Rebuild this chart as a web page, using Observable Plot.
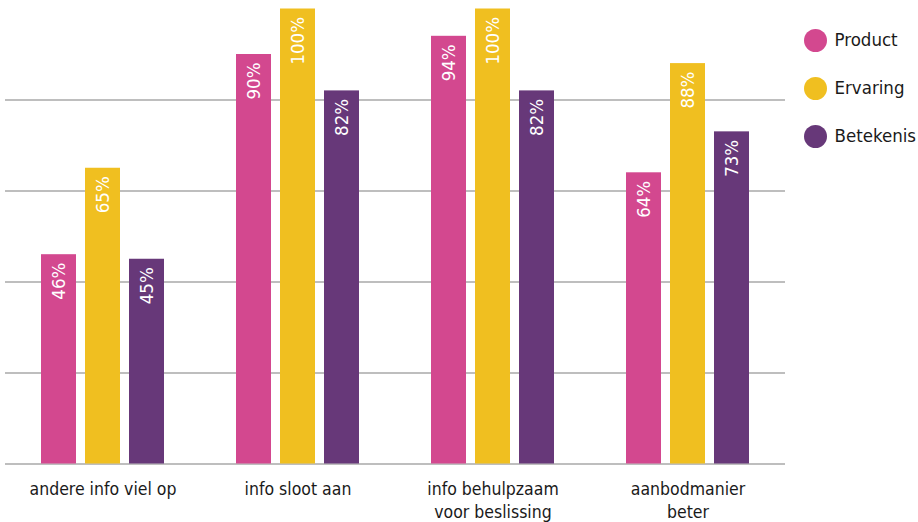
<!DOCTYPE html>
<html>
<head>
<meta charset="utf-8">
<script src="https://cdn.jsdelivr.net/npm/d3@7"></script>
<script src="https://cdn.jsdelivr.net/npm/@observablehq/plot@0.6"></script>
<style>
  html, body { margin: 0; padding: 0; background: #fff; }
  #wrap { position: relative; width: 918px; height: 522px; }
  #legend { position: absolute; left: 790px; top: 0; }
  svg { font-family: "DejaVu Sans Condensed", "DejaVu Sans", sans-serif; }
</style>
</head>
<body>
<div id="wrap"><div id="chart"></div><div id="legend"></div></div>
<script>
const categories = ["andere info viel op", "info sloot aan", "info behulpzaam\nvoor beslissing", "aanbodmanier\nbeter"];
const series = ["Product", "Ervaring", "Betekenis"];
const colors = ["#d3488f", "#f0bf20", "#673879"];
const product = [46, 90, 94, 64];
const ervaring = [65, 100, 100, 88];
const betekenis = [45, 82, 82, 73];
const gridTicks = [0, 20, 40, 60, 80];

const values = [product, ervaring, betekenis];
const data = [];
categories.forEach((c, i) => series.forEach((s, j) => data.push({cat: c, series: s, value: values[j][i]})));

const chart = Plot.plot({
  width: 918,
  height: 522,
  marginLeft: 4,
  marginRight: 133,
  marginTop: 8.5,
  marginBottom: 58.5,
  fx: {domain: categories, padding: 0, label: null},
  x: {domain: series, paddingInner: 0.2045, paddingOuter: 0.818, axis: null},
  y: {domain: [0, 100], axis: null},
  color: {domain: series, range: colors},
  marks: [
    Plot.ruleY(gridTicks, {stroke: "#a8a8a8", strokeWidth: 1.5}),
    Plot.barY(data, {fx: "cat", x: "series", y: "value", fill: "series"}),
    Plot.text(data, {
      fx: "cat", x: "series", y: "value",
      text: d => d.value + "%",
      rotate: -90, textAnchor: "end", dy: 8,
      fill: "white", fontSize: 18.5
    }),
    Plot.axisFx({
      anchor: "bottom", tickSize: 0, tickPadding: 15, fontSize: 17.5,
      lineHeight: 1.3, fill: "#1a1a1a", label: null
    })
  ]
});
document.getElementById("chart").appendChild(chart);

const legend = Plot.plot({
  width: 128,
  height: 170,
  margin: 0,
  x: {domain: [0, 1], range: [25, 120], axis: null},
  y: {type: "point", domain: series, range: [40, 136], padding: 0, axis: null},
  color: {domain: series, range: colors},
  marks: [
    Plot.dot(series, {x: () => 0, y: d => d, r: 11.5, fill: d => d}),
    Plot.text(series, {x: () => 0, y: d => d, text: d => d, dx: 19, textAnchor: "start", fontSize: 18.5, fill: "#1a1a1a"})
  ]
});
document.getElementById("legend").appendChild(legend);
</script>
</body>
</html>
